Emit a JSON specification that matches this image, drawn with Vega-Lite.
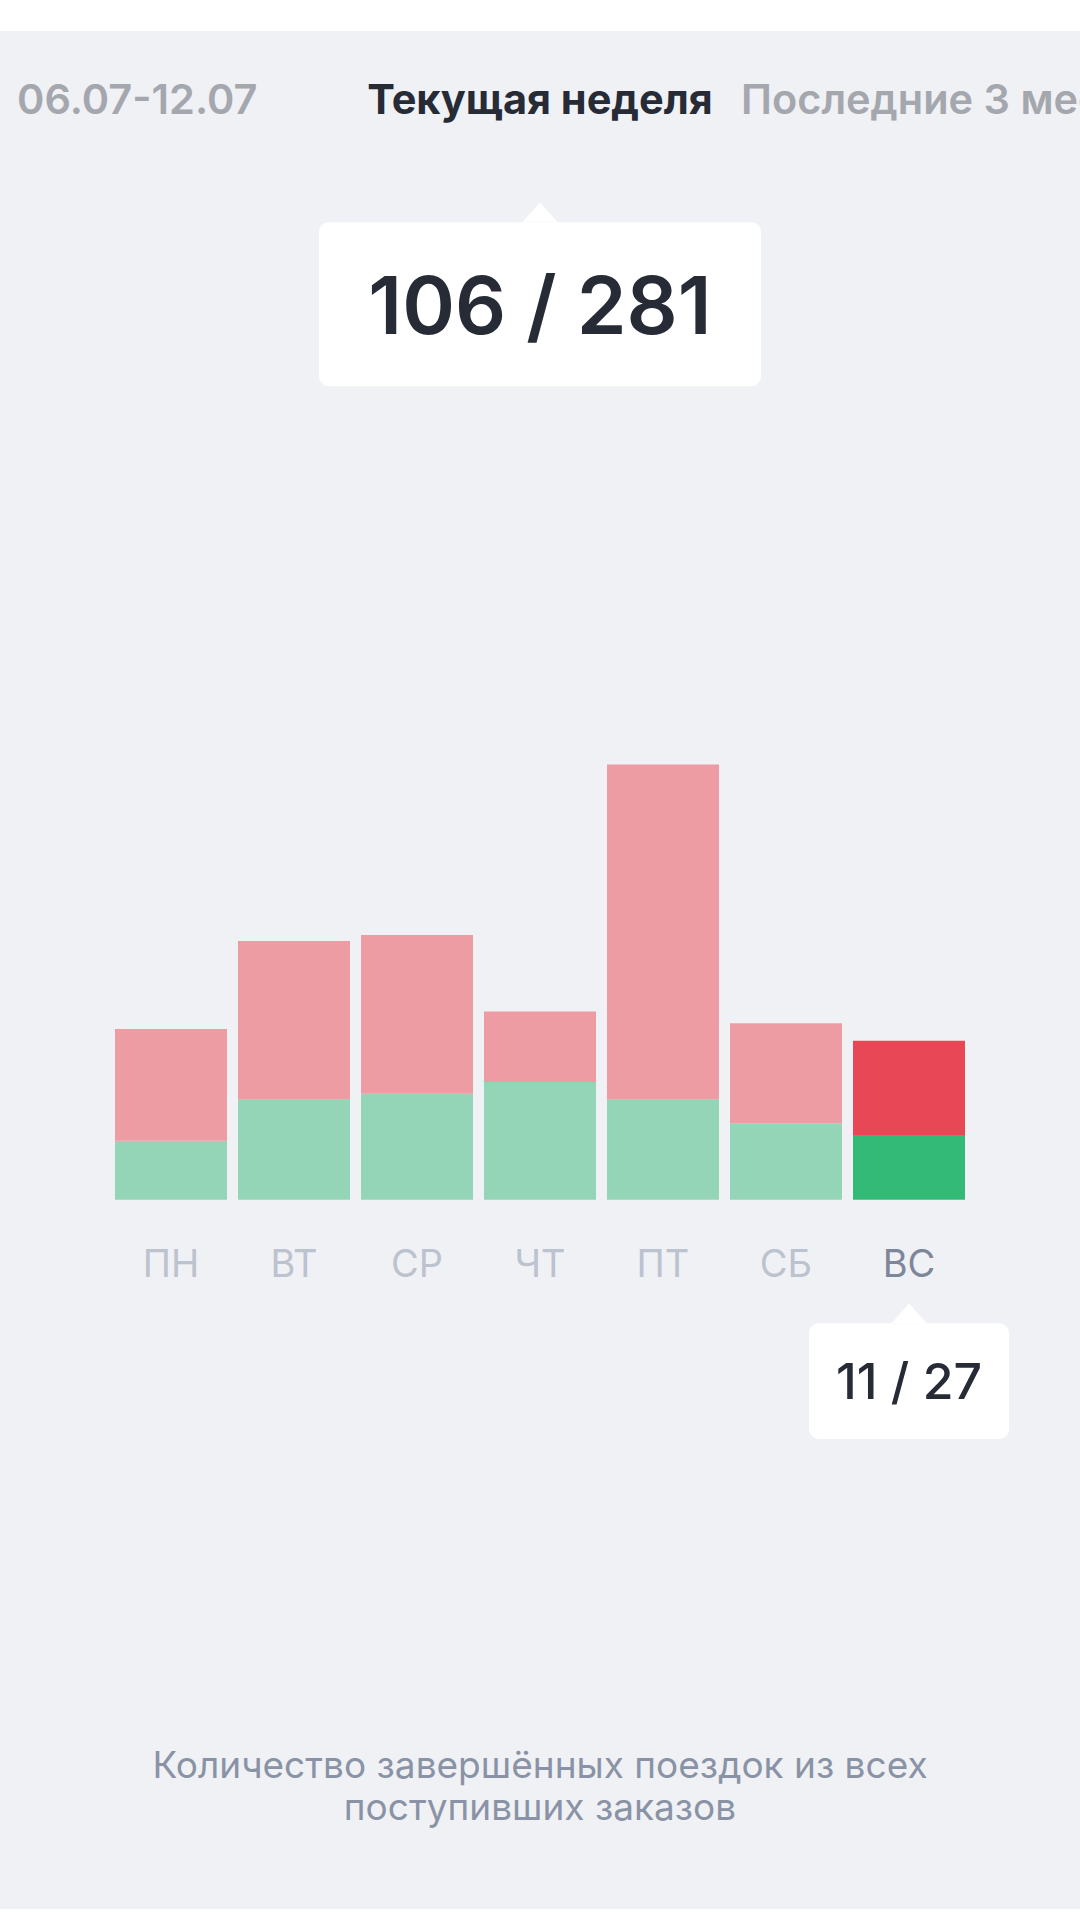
{
  "$schema": "https://vega.github.io/schema/vega-lite/v6.json",
  "width": 1080,
  "height": 1920,
  "autosize": {"type": "fit", "contains": "padding"},
  "padding": {"top": 31, "bottom": 11, "left": 0, "right": 0},
  "background": "#FFFFFF",
  "config": {"view": {"fill": "#F0F1F5", "stroke": null}, "font": "Inter"},
  "data": {"values": [
    {"day": "ПН", "status": "выполнено", "count": 10},
    {"day": "ПН", "status": "не выполнено", "count": 19},
    {"day": "ВТ", "status": "выполнено", "count": 17},
    {"day": "ВТ", "status": "не выполнено", "count": 27},
    {"day": "СР", "status": "выполнено", "count": 18},
    {"day": "СР", "status": "не выполнено", "count": 27},
    {"day": "ЧТ", "status": "выполнено", "count": 20},
    {"day": "ЧТ", "status": "не выполнено", "count": 12},
    {"day": "ПТ", "status": "выполнено", "count": 17},
    {"day": "ПТ", "status": "не выполнено", "count": 57},
    {"day": "СБ", "status": "выполнено", "count": 13},
    {"day": "СБ", "status": "не выполнено", "count": 17},
    {"day": "ВС", "status": "выполнено", "count": 11},
    {"day": "ВС", "status": "не выполнено", "count": 16}
  ]},
  "layer": [
    {
      "mark": {"type": "bar"},
      "encoding": {
        "x": {"field": "day", "type": "nominal", "scale": {"domain": ["ПН", "ВТ", "СР", "ЧТ", "ПТ", "СБ", "ВС"], "paddingInner": 0.0894, "paddingOuter": 0.935}, "axis": null},
        "y": {"field": "count", "type": "quantitative", "stack": "zero", "scale": {"domain": [-120.6, 198.7], "zero": false, "nice": false}, "axis": null},
        "order": {"field": "status", "sort": "ascending"},
        "color": {
          "condition": [
            {"test": "datum.day == 'ВС' && datum.status == 'выполнено'", "value": "#33BA77"},
            {"test": "datum.day == 'ВС' && datum.status == 'не выполнено'", "value": "#E84855"}
          ],
          "field": "status", "type": "nominal",
          "scale": {"domain": ["выполнено", "не выполнено"], "range": ["#93D5B6", "#EE9CA4"]},
          "legend": null
        }
      }
    },
    {
      "transform": [{"filter": "datum.status == 'выполнено'"}],
      "mark": {"type": "text", "fontSize": 38, "fontWeight": 400, "baseline": "middle", "align": "center"},
      "encoding": {
        "x": {"field": "day", "type": "nominal"},
        "y": {"datum": -11.2, "type": "quantitative"},
        "text": {"field": "day"},
        "color": {"condition": {"test": "datum.day == 'ВС'", "value": "#7E879A"}, "value": "#BCC2CE"}
      }
    },
    {
      "data": {"values": [{}]},
      "mark": {"type": "point", "shape": "M-0.9,0.5L0,-0.5L0.9,0.5Z", "size": 1505, "filled": true, "fill": "#FFFFFF", "opacity": 1, "strokeWidth": 0},
      "encoding": {"x": {"datum": "ЧТ"}, "y": {"datum": 167.9, "type": "quantitative"}}
    },
    {
      "data": {"values": [{}]},
      "mark": {"type": "bar", "width": 442, "cornerRadius": 10, "fill": "#FFFFFF"},
      "encoding": {"x": {"datum": "ЧТ"}, "y": {"datum": 166.2, "type": "quantitative"}, "y2": {"datum": 138.3}}
    },
    {
      "data": {"values": [{}]},
      "mark": {"type": "text", "text": "106 / 281", "fontSize": 80, "fontWeight": 600, "letterSpacing": -1.5, "color": "#262B36", "baseline": "middle", "align": "center"},
      "encoding": {"x": {"datum": "ЧТ"}, "y": {"datum": 151.3, "type": "quantitative"}}
    },
    {
      "data": {"values": [{}]},
      "mark": {"type": "point", "shape": "M-0.9,0.5L0,-0.5L0.9,0.5Z", "size": 1505, "filled": true, "fill": "#FFFFFF", "opacity": 1, "strokeWidth": 0},
      "encoding": {"x": {"datum": "ВС"}, "y": {"datum": -19.3, "type": "quantitative"}}
    },
    {
      "data": {"values": [{}]},
      "mark": {"type": "bar", "width": 200, "cornerRadius": 10, "fill": "#FFFFFF"},
      "encoding": {"x": {"datum": "ВС"}, "y": {"datum": -21.0, "type": "quantitative"}, "y2": {"datum": -40.7}}
    },
    {
      "data": {"values": [{}]},
      "mark": {"type": "text", "text": "11 / 27", "fontSize": 50, "fontWeight": 500, "letterSpacing": -0.5, "color": "#262B36", "baseline": "middle", "align": "center"},
      "encoding": {"x": {"datum": "ВС"}, "y": {"datum": -31.4, "type": "quantitative"}}
    },
    {
      "data": {"values": [{}]},
      "mark": {"type": "text", "text": "06.07-12.07", "fontSize": 41.5, "fontWeight": 600, "color": "#A4A7AD", "baseline": "middle", "align": "left", "dx": -154},
      "encoding": {"x": {"datum": "ПН"}, "y": {"datum": 186.6, "type": "quantitative"}}
    },
    {
      "data": {"values": [{}]},
      "mark": {"type": "text", "text": "Текущая неделя", "fontSize": 41.5, "fontWeight": 700, "color": "#262B36", "baseline": "middle", "align": "center"},
      "encoding": {"x": {"datum": "ЧТ"}, "y": {"datum": 186.6, "type": "quantitative"}}
    },
    {
      "data": {"values": [{}]},
      "mark": {"type": "text", "text": "Последние 3 месяца", "fontSize": 41.5, "fontWeight": 600, "color": "#A4A7AD", "baseline": "middle", "align": "left", "dx": 78, "clip": true},
      "encoding": {"x": {"datum": "ПТ"}, "y": {"datum": 186.6, "type": "quantitative"}}
    },
    {
      "data": {"values": [{}]},
      "mark": {"type": "text", "text": ["Количество завершённых поездок из всех", "поступивших заказов"], "fontSize": 37, "fontWeight": 400, "lineHeight": 42, "color": "#8A93A5", "baseline": "middle", "align": "center"},
      "encoding": {"x": {"datum": "ЧТ"}, "y": {"datum": -96.5, "type": "quantitative"}}
    }
  ]
}
